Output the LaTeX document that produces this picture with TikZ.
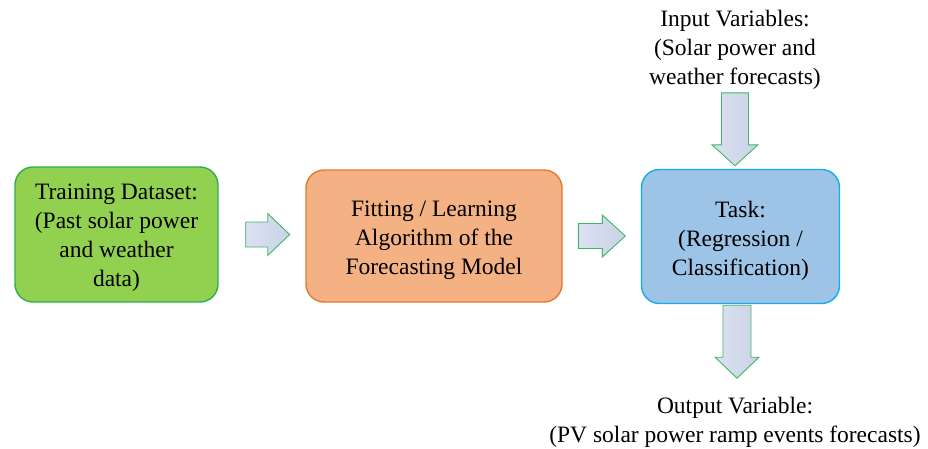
\documentclass[tikz,border=0pt]{standalone}
\usepackage{fontspec}
\setmainfont{Liberation Serif}
\usetikzlibrary{calc}

\definecolor{greenfill}{HTML}{92D050}
\definecolor{greenline}{HTML}{2FAE4F}
\definecolor{orangefill}{HTML}{F4B183}
\definecolor{orangeline}{HTML}{E5782E}
\definecolor{bluefill}{HTML}{9DC3E6}
\definecolor{blueline}{HTML}{10AEEA}
\definecolor{arrowlight}{HTML}{DCE1F1}
\definecolor{arrowdark}{HTML}{CAD2E8}
\definecolor{arrowline}{HTML}{3CB862}

\tikzset{
  label text/.style={align=center, inner sep=0pt,
    font=\fontsize{23.5}{29}\selectfont},
  stagebox/.style={draw, line width=1.4pt, rounded corners=18pt},
  blockarrow/.style={draw=arrowline, line width=0.9pt, line join=miter,
    left color=arrowlight, right color=arrowdark},
}

\begin{document}
\begin{tikzpicture}[x=1pt, y=-1pt]
  \useasboundingbox (0,0) rectangle (928,448);

  % the three stages
  \node[stagebox, draw=greenline, fill=greenfill,
        minimum width=203, minimum height=135] (train) at (116.5,234.5) {};
  \node[label text] (traintext) at ($(train.center)+(0,3)$)
    {Training Dataset:\\(Past solar power\\and weather\\data)};
  \node[stagebox, draw=orangeline, fill=orangefill,
        minimum width=256, minimum height=132] (fit) at (434,236) {};
  \node[label text] (fittext) at ($(fit.center)+(0,4.5)$)
    {Fitting / Learning\\Algorithm of the\\Forecasting Model};
  \node[stagebox, draw=blueline, fill=bluefill,
        minimum width=198, minimum height=134] (task) at (740.5,236.5) {};
  \node[label text] (tasktext) at ($(task.center)+(0,4)$)
    {Task:\\(Regression /\\Classification)};

  % inputs and outputs of the task
  \node[label text] (inp) at (735,50)
    {Input Variables:\\(Solar power and\\weather forecasts)};
  \node[label text] (outp) at (735,422)
    {Output Variable:\\(PV solar power ramp events forecasts)};

  % anchor points of the block arrows
  \coordinate (a1) at ($(train.east)+(49,0)$);
  \coordinate (a2) at ($(fit.west)+(297,0)$);
  \coordinate (a3) at ($(task.north)+(-5.5,0)$);
  \coordinate (a4) at ($(task.south)+(-3.5,0)$);

  % right-pointing block arrows: shaft base, head base at the coordinate, tip
  \draw[blockarrow] (a1) ++(-22,-12.5) -- ++(22,0) -- ++(0,-8.5)
    -- ++(22,21) -- ++(-22,21) -- ++(0,-8.5) -- ++(-22,0) -- cycle;
  \draw[blockarrow] (a2) ++(-24,-12.5) -- ++(24,0) -- ++(0,-8.5)
    -- ++(23,21) -- ++(-23,21) -- ++(0,-8.5) -- ++(-24,0) -- cycle;

  % downward block arrows into and out of the task
  \draw[blockarrow] (a3) ++(-13.5,-76) -- ++(27,0) -- ++(0,52)
    -- ++(9.5,0) -- ++(-23,21) -- ++(-23,-21) -- ++(9.5,0) -- cycle;
  \draw[blockarrow] (a4) ++(-14,1) -- ++(28,0) -- ++(0,52)
    -- ++(8,0) -- ++(-22,21) -- ++(-22,-21) -- ++(8,0) -- cycle;
\end{tikzpicture}
\end{document}
